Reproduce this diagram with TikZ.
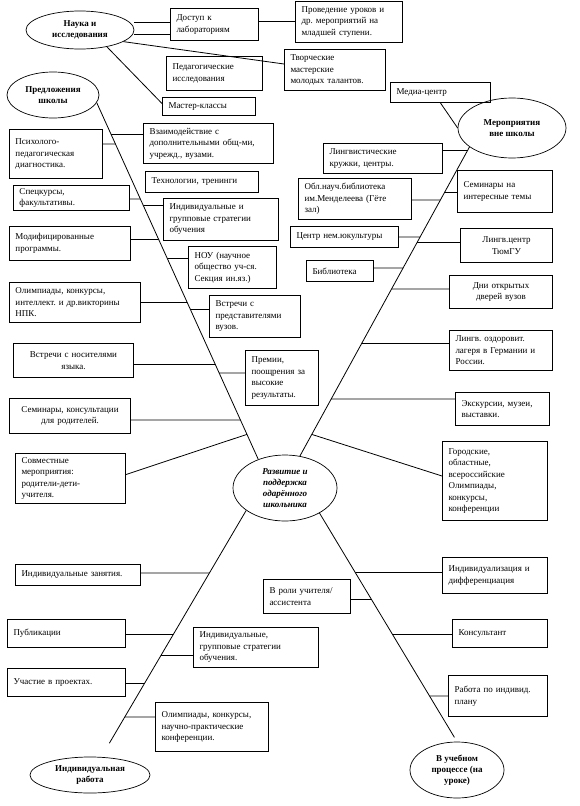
\documentclass[tikz,border=0pt]{standalone}
\usepackage{fontspec}
\setmainfont{Liberation Serif}
\usetikzlibrary{calc, shapes.geometric}
\frenchspacing

\tikzset{
  box/.style 2 args={draw, line width=1pt, anchor=north west, inner xsep=6pt, inner ysep=2pt,
    text width=#1, minimum height=#2, align=left},
  oval/.style 2 args={ellipse, draw, line width=0.7pt, minimum width=#1, minimum height=#2,
    inner sep=0pt, align=center, font=\fontsize{9}{11}\selectfont\bfseries},
  branch/.style={line width=0.8pt},
  link/.style={line width=0.8pt}
}

\begin{document}
\begin{tikzpicture}[x=1pt, y=-1pt, font=\fontsize{9}{11.5}\selectfont]
    \useasboundingbox (0,0) rectangle (580,806);

    % the six ovals
    \node[oval={108pt}{38pt}] (sci) at (80,30) {Наука и\\исследования};
    \node[oval={92pt}{46pt}] (school) at (53,95) {Предложения\\школы};
    \node[oval={108pt}{60pt}] (out) at (512,128) {Мероприятия\\вне школы};
    \node[oval={104pt}{66pt}, font=\fontsize{9}{11}\selectfont\bfseries\itshape] (core) at (285,488)
        {Развитие и\\поддержка\\одарённого\\школьника};
    \node[oval={120pt}{36pt}] (ind) at (90,775) {Индивидуальная\\работа};
    \node[oval={94pt}{56pt}] (proc) at (457,770) {В учебном\\процессе (на\\уроке)};

    % top boxes
    \node[box={76pt}{32pt}] (lab) at (170,8) {Доступ к\\лабораториям};
    \node[box={95pt}{41pt}] (lessons) at (295,1) {Проведение уроков и\\др. мероприятий на\\младшей ступени.};
    \node[box={84pt}{34pt}] (peda) at (166,56) {Педагогические\\исследования};
    \node[box={89pt}{41pt}] (creative) at (284,49) {Творческие\\мастерские\\молодых талантов.};
    \node[box={81pt}{18pt}] (master) at (162,97) {Мастер-классы};
    \node[box={88pt}{20pt}] (media) at (390,82) {Медиа-центр};

    % school branch, left
    \node[box={81pt}{49pt}] (psy) at (9,129) {Психолого-\\педагогическая\\диагностика.};
    \node[box={104pt}{25pt}] (spec) at (13,185) {Спецкурсы,\\факультативы.};
    \node[box={109pt}{34pt}] (mod) at (9,226) {Модифицированные\\программы.};
    \node[box={119pt}{40pt}] (olymp) at (9,282) {Олимпиады, конкурсы,\\интеллект. и др.викторины\\НПК.};
    \node[box={108pt}{34pt}, align=center] (native) at (13,343) {Встречи с носителями\\языка.};
    \node[box={109pt}{35pt}, align=center] (parents) at (9,398) {Семинары, консультации\\для родителей.};
    \node[box={98pt}{50pt}] (joint) at (15,453) {Совместные\\мероприятия:\\родители-дети-\\учителя.};

    % school branch, right
    \node[box={118pt}{40pt}] (inter) at (143,123) {Взаимодействие с\\дополнительными общ-ми,\\учрежд., вузами.};
    \node[box={101pt}{21pt}] (tech) at (145,171) {Технологии, тренинги};
    \node[box={103pt}{42pt}] (indiv) at (163,198) {Индивидуальные и\\групповые стратегии\\обучения};
    \node[box={76pt}{42pt}] (nou) at (188,246) {НОУ (научное\\общество уч-ся.\\Секция ин.яз.)};
    \node[box={79pt}{42pt}] (meet) at (209,295) {Встречи с\\представителями\\вузов.};
    \node[box={61pt}{55pt}] (prize) at (245,350) {Премии,\\поощрения за\\высокие\\результаты.};

    % outside branch, left
    \node[box={107pt}{30pt}] (ling) at (323,143) {Лингвистические\\кружки, центры.};
    \node[box={101pt}{41pt}] (lib) at (298,178) {Обл.науч.библиотека\\им.Менделеева (Гёте\\зал)};
    \node[box={96pt}{21pt}] (nem) at (290,226) {Центр нем.юкультуры};
    \node[box={55pt}{21pt}] (bib) at (306,260) {Библиотека};

    % outside branch, right
    \node[box={83pt}{42pt}] (sem) at (457,170) {Семинары на\\интересные темы};
    \node[box={80pt}{34pt}, align=center] (tyumgu) at (460,228) {Лингв.центр\\ТюмГУ};
    \node[box={91pt}{33pt}, align=center] (open) at (449,275) {Дни открытых\\дверей вузов};
    \node[box={91pt}{40pt}] (camp) at (449,330) {Лингв. оздоровит.\\лагеря в Германии и\\России.};
    \node[box={82pt}{33pt}] (exc) at (455,392) {Экскурсии, музеи,\\выставки.};
    \node[box={93pt}{79pt}] (city) at (442,441) {Городские,\\областные,\\всероссийские\\Олимпиады,\\конкурсы,\\конференции};

    % individual work
    \node[box={113pt}{21pt}] (indz) at (15,564) {Индивидуальные занятия.};
    \node[box={106pt}{28pt}] (pub) at (7,619) {Публикации};
    \node[box={106pt}{28pt}] (proj) at (7,668) {Участие в проектах.};
    \node[box={113pt}{40pt}] (strat) at (193,627) {Индивидуальные,\\групповые стратегии\\обучения.};
    \node[box={101pt}{49pt}] (olymp2) at (155,702) {Олимпиады, конкурсы,\\научно-практические\\конференции.};

    % lessons
    \node[box={75pt}{34pt}] (role) at (263,579) {В роли учителя/\\ассистента};
    \node[box={93pt}{36pt}] (diff) at (442,557) {Индивидуализация и\\дифференциация};
    \node[box={83pt}{28pt}] (cons) at (452,619) {Консультант};
    \node[box={87pt}{41pt}] (plan) at (448,675) {Работа по индивид.\\плану};

    % main branches
    \draw[branch] (school.-10) coordinate (ul1) -- (core.133) coordinate (ul2);
    \draw[branch] (out.204) coordinate (ur1) -- (core.65) coordinate (ur2);
    \draw[branch, shorten >=16pt] (core.210) coordinate (ll1) -- (ind.58) coordinate (ll2);
    \draw[branch, shorten >=5pt] (core.-36) coordinate (lr1) -- (proc.north) coordinate (lr2);

    % links round the top oval
    \draw[link] ([yshift=2pt]lab.west) -- ([yshift=2pt]lab.west -| sci.east);
    \draw[link] ([yshift=-10pt]lab.west) -- ([yshift=-10pt]lab.west -| sci.east);
    \draw[link] ([yshift=3pt]lab.east) -- ([yshift=3pt]lab.east -| lessons.west);
    \draw[link] (sci.-15) -- ([yshift=6pt]creative.west);
    \draw[link] (sci.-32) -- ([yshift=3pt]master.west);
    \draw[link] (media.south) -- (out.west);

    % boxes hooked on the branches
    \foreach \b/\s/\br/\a in {psy/10/ul/east, spec/-1/ul/east, mod/4/ul/east, olymp/0/ul/east,
        native/-4/ul/east, parents/-4/ul/east, inter/9/ul/west, indiv/14/ul/west, nou/9/ul/west,
        meet/7/ul/west, prize/5/ul/west,
        ling/8/ur/east, lib/-1/ur/east, nem/0/ur/east, bib/3/ur/east, sem/-1/ur/west,
        tyumgu/3/ur/west, open/3/ur/west, camp/7/ur/west, exc/10/ur/west,
        indz/2/ll/east, pub/-1/ll/east, proj/-1/ll/east, strat/-8/ll/west, olymp2/10/ll/west,
        role/-3/lr/east, diff/3/lr/west, cons/-1/lr/west, plan/0/lr/west}
    {
        \path ([yshift=\s pt]\b.west) coordinate (hw) ([yshift=\s pt]\b.east) coordinate (he);
        \draw[link] ([yshift=\s pt]\b.\a) -- (intersection of \br1--\br2 and hw--he);
    }

    % the two slanted links
    \draw[link] ([yshift=4pt]joint.east) -- ($(ul1)!0.93!(ul2)$);
    \draw[link] ($(ur1)!0.93!(ur2)$) -- ([yshift=5pt]city.west);
\end{tikzpicture}
\end{document}
